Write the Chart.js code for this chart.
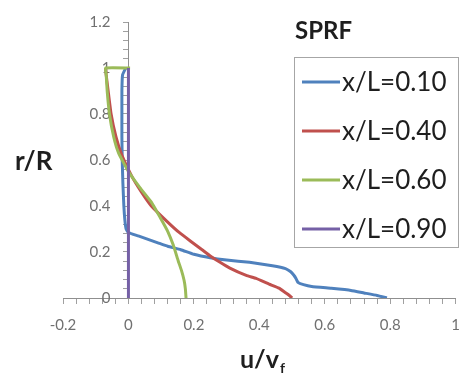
<!DOCTYPE html>
<html><head><meta charset="utf-8">
<script src="https://cdn.jsdelivr.net/npm/chart.js@4.4.1/dist/chart.umd.min.js"></script>
<style>html,body{margin:0;padding:0;background:#fff;}#wrap{width:473px;height:376px;position:relative;}</style>
</head><body><div id="wrap"><canvas id="c" width="473" height="376"></canvas></div>
<script>
// ---- data ----
const seriesLabels = ['x/L=0.10', 'x/L=0.40', 'x/L=0.60', 'x/L=0.90'];
const seriesColors = ['#4F81BD', '#C0504D', '#9BBB59', '#7560A6'];

const u010 = [-0.008, -0.018, -0.02, -0.02, -0.02, -0.019, -0.017, -0.014, -0.011, -0.007, 0.0, 0.03, 0.06, 0.09, 0.12, 0.16, 0.2, 0.25, 0.3, 0.37, 0.44, 0.48, 0.495, 0.505, 0.512, 0.518, 0.535, 0.56, 0.62, 0.68, 0.72, 0.76, 0.79];
const r010 = [1.0, 0.97, 0.9, 0.8, 0.7, 0.6, 0.5, 0.4, 0.34, 0.3, 0.285, 0.27, 0.255, 0.24, 0.225, 0.21, 0.19, 0.175, 0.165, 0.155, 0.14, 0.128, 0.115, 0.1, 0.085, 0.068, 0.058, 0.05, 0.042, 0.033, 0.022, 0.011, 0.0];

const u040 = [-0.07, -0.068, -0.062, -0.053, -0.038, -0.02, 0.01, 0.04, 0.07, 0.12, 0.155, 0.19, 0.225, 0.25, 0.28, 0.31, 0.36, 0.39, 0.43, 0.46, 0.478, 0.49, 0.50];
const r040 = [1.0, 0.97, 0.9, 0.8, 0.7, 0.62, 0.53, 0.46, 0.4, 0.33, 0.285, 0.247, 0.21, 0.183, 0.155, 0.13, 0.098, 0.085, 0.06, 0.043, 0.025, 0.013, 0.0];

const u060 = [0.005, -0.07, -0.068, -0.065, -0.058, -0.045, -0.03, 0.0, 0.035, 0.07, 0.097, 0.12, 0.137, 0.152, 0.162, 0.17, 0.174, 0.176];
const r060 = [1.0, 1.0, 0.97, 0.9, 0.8, 0.7, 0.63, 0.55, 0.48, 0.417, 0.35, 0.29, 0.23, 0.162, 0.12, 0.077, 0.04, 0.0];

const u090 = [0.0, 0.0];
const r090 = [1.0, 0.0];

const xTickLabels = [-0.2, 0, 0.2, 0.4, 0.6, 0.8, 1];
const yTickLabels = [0, 0.2, 0.4, 0.6, 0.8, 1, 1.2];
const xTitle = 'u/v', xTitleSub = 'f';
const yTitle = 'r/R';
const legendTitle = 'SPRF';

// ---- build ----
const uSets = [u010, u040, u060, u090];
const rSets = [r010, r040, r060, r090];
const toPts = (u, r) => u.map((v, i) => ({x: v, y: r[i]}));

function labelFrom(list) {
  return function (value) {
    for (const t of list) if (Math.abs(value - t) < 1e-6) return String(t);
    return '';
  };
}

const FONT = 'Lato, "Open Sans", sans-serif';

const overlay = {
  id: 'overlay',
  beforeDraw(chart) {
    // move the y tick labels to the left of the centred y axis
    const s = chart.scales.y;
    const items = s.getLabelItems(chart.chartArea);
    if (!items._shifted) {
      items.forEach(it => { it.options.translation[0] -= 18; });
      items._shifted = true;
    }
  },
  afterDraw(chart) {
    const ctx = chart.ctx;
    ctx.save();
    ctx.fillStyle = '#1e1e1e';
    // y title
    ctx.font = 'bold 26px ' + FONT;
    ctx.textAlign = 'left';
    ctx.textBaseline = 'middle';
    ctx.fillText(yTitle, 15, 162);
    // x title with subscript
    ctx.textBaseline = 'alphabetic';
    ctx.font = 'bold 25px ' + FONT;
    const w1 = ctx.measureText(xTitle).width;
    ctx.font = 'bold 14px ' + FONT;
    const w2 = ctx.measureText(xTitleSub).width;
    const x0 = 262 - (w1 + w2) / 2;
    ctx.font = 'bold 25px ' + FONT;
    ctx.fillText(xTitle, x0, 368);
    ctx.font = 'bold 14px ' + FONT;
    ctx.fillText(xTitleSub, x0 + w1 + 1, 373);
    // legend title
    ctx.font = 'bold 24px ' + FONT;
    ctx.fillText(legendTitle, 295, 39);
    // legend box
    ctx.fillStyle = '#ffffff';
    ctx.fillRect(294, 57, 164, 190);
    ctx.strokeStyle = '#a6a6a6';
    ctx.lineWidth = 1;
    ctx.strokeRect(294.5, 57.5, 164, 190);
    ctx.font = '26px ' + FONT;
    ctx.textBaseline = 'middle';
    chart.data.datasets.forEach((ds, i) => {
      const y = 82 + i * 49;
      ctx.strokeStyle = ds.borderColor;
      ctx.lineWidth = 3;
      ctx.beginPath();
      ctx.moveTo(302, y);
      ctx.lineTo(340, y);
      ctx.stroke();
      ctx.fillStyle = '#1e1e1e';
      ctx.fillText(ds.label, 342, y + 1);
    });
    ctx.restore();
  }
};

new Chart(document.getElementById('c'), {
  type: 'scatter',
  data: {
    datasets: seriesLabels.map((lab, i) => ({
      label: lab,
      data: toPts(uSets[i], rSets[i]),
      showLine: true,
      borderColor: seriesColors[i],
      backgroundColor: seriesColors[i],
      borderWidth: 3,
      pointRadius: 0,
      tension: 0.12,
      order: 4 - i
    }))
  },
  options: {
    responsive: false,
    animation: false,
    devicePixelRatio: 1,
    layout: {padding: {left: 63, right: 8, top: 16, bottom: 78}},
    plugins: {legend: {display: false}, tooltip: {enabled: false}},
    scales: {
      x: {
        type: 'linear', min: -0.2, max: 1.0,
        position: {y: 0},
        ticks: {stepSize: 0.04, autoSkip: false, maxRotation: 0, callback: labelFrom(xTickLabels),
                color: '#707070', font: {family: FONT, size: 15}, padding: 13},
        grid: {drawOnChartArea: false, tickLength: 5, color: '#a0a0a0'},
        border: {color: '#8f8f8f', width: 1}
      },
      y: {
        type: 'linear', min: 0, max: 1.2,
        position: {x: 0},
        ticks: {stepSize: 0.04, autoSkip: false, callback: labelFrom(yTickLabels),
                color: '#707070', font: {family: FONT, size: 15}, padding: 13},
        grid: {drawOnChartArea: false, tickLength: 5, color: '#a0a0a0'},
        border: {color: '#8f8f8f', width: 1}
      }
    }
  },
  plugins: [overlay]
});
</script></body></html>
